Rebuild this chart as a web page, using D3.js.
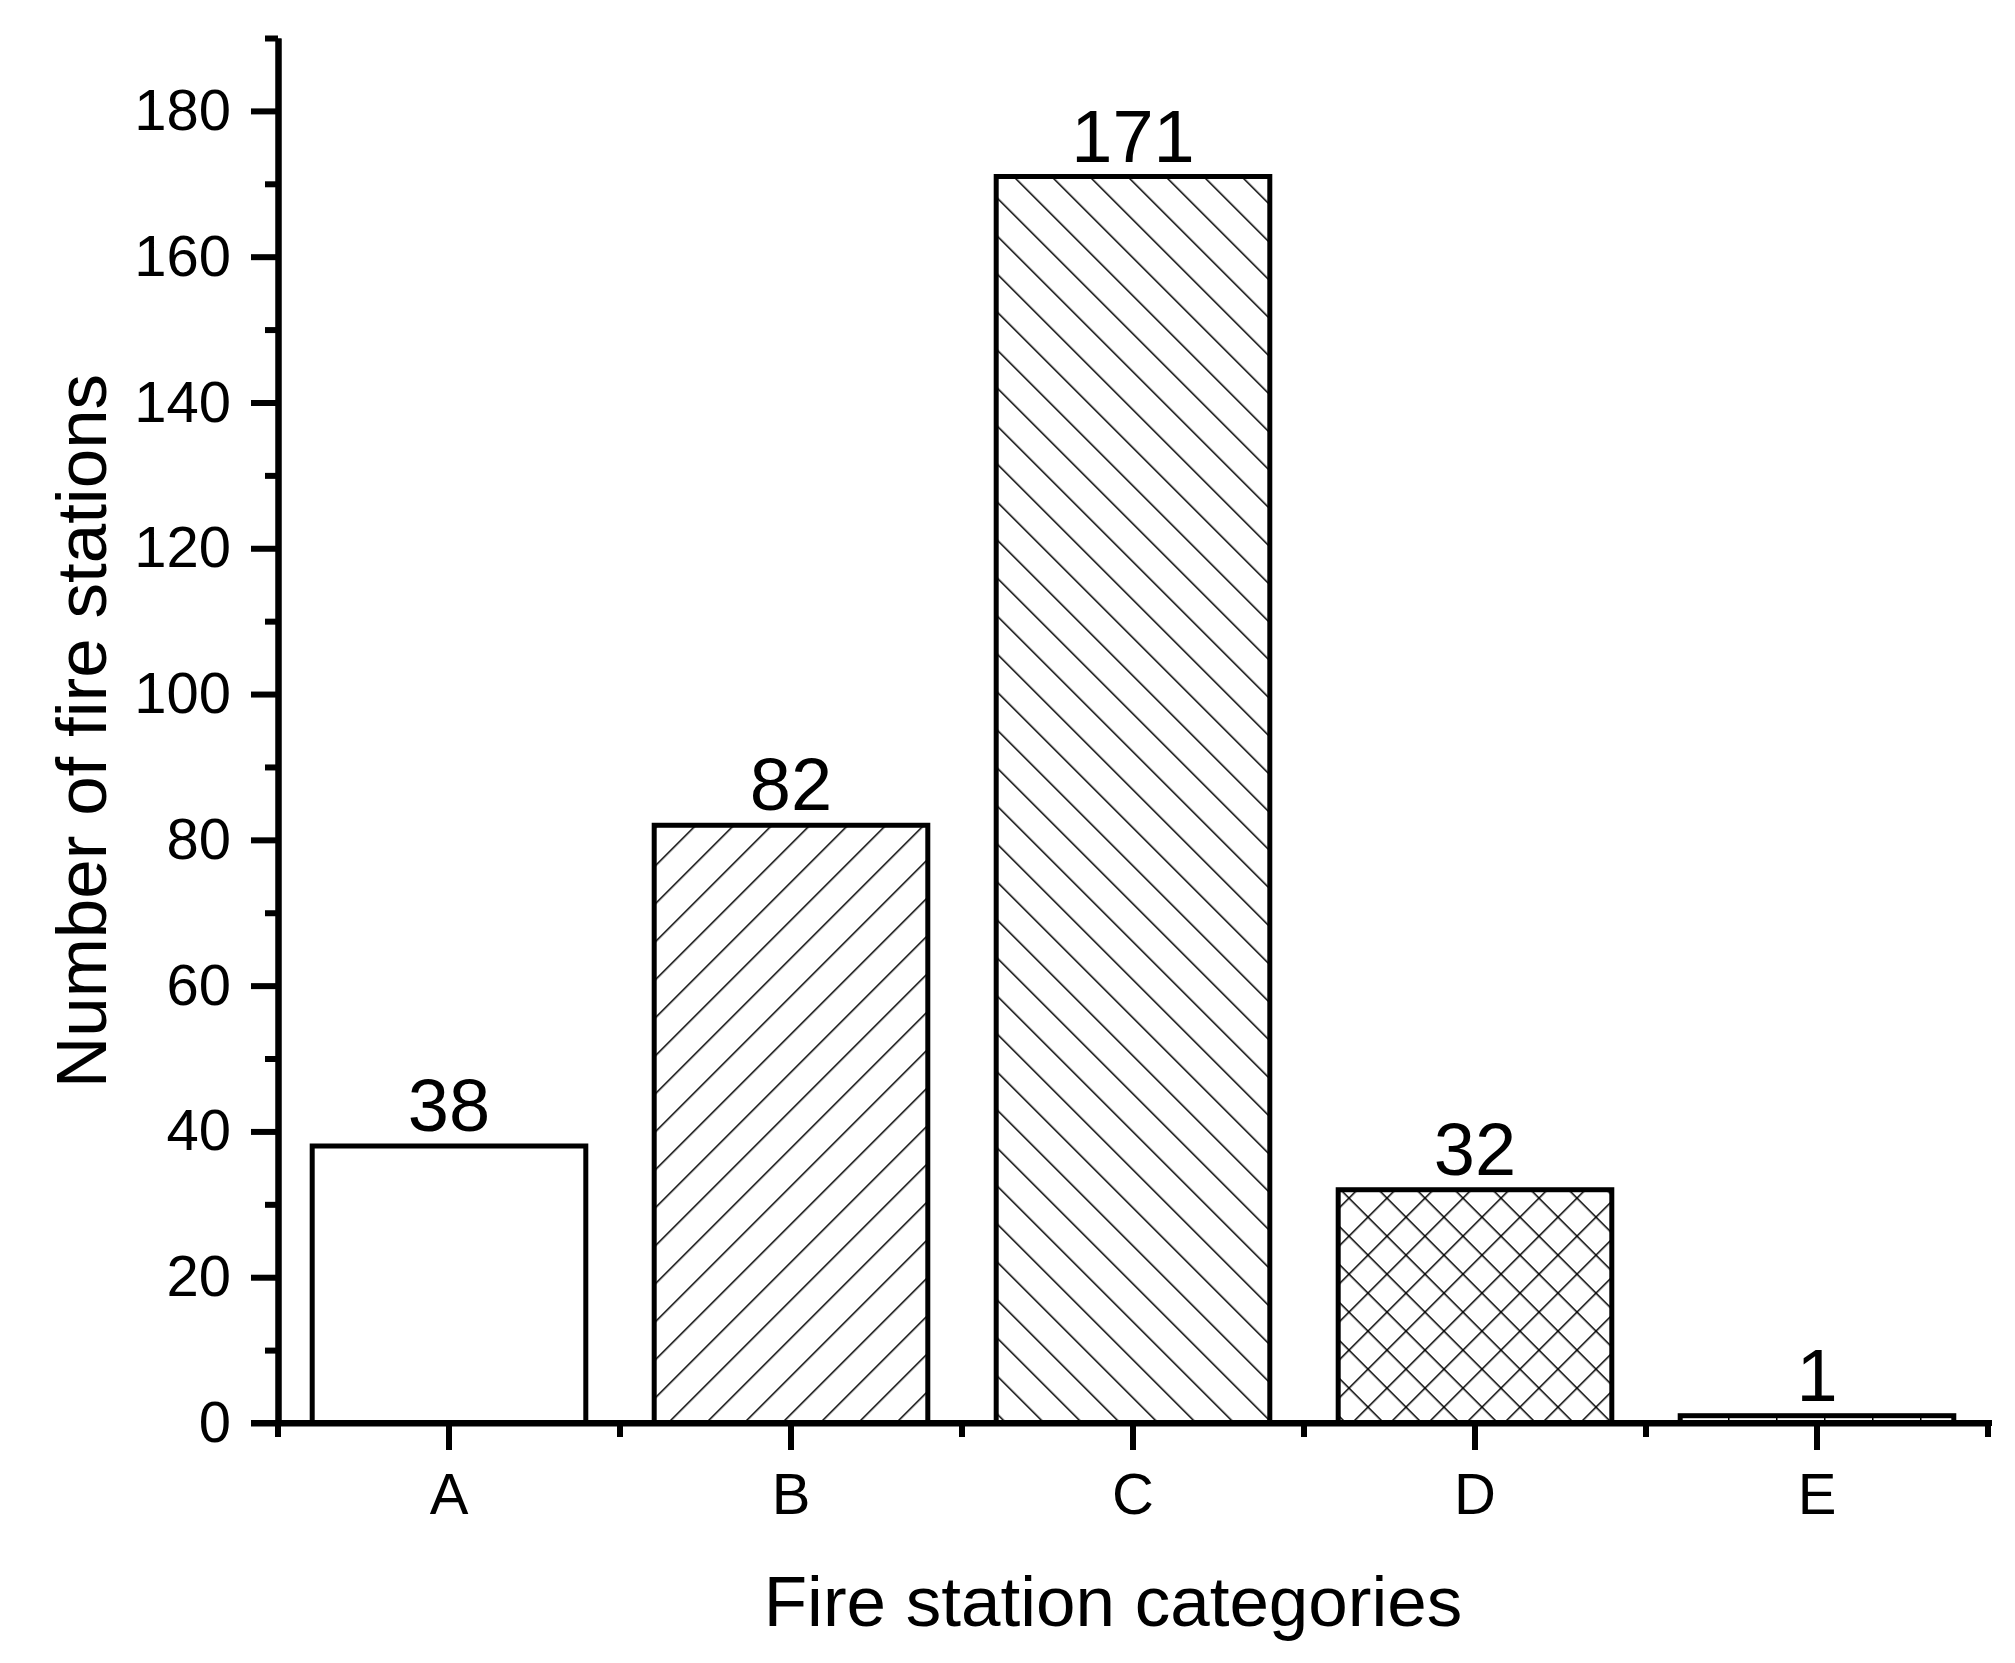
<!DOCTYPE html>
<html>
<head>
<meta charset="utf-8">
<script src="https://cdn.jsdelivr.net/npm/d3@7"></script>
<style>
  body { margin: 0; background: #ffffff; }
  text { font-family: "Liberation Sans", Arial, sans-serif; fill: #000; }
</style>
</head>
<body>
<svg></svg>
<script>
// data
var categories = ['A', 'B', 'C', 'D', 'E']
var counts = [38, 82, 171, 32, 1]
var fills = ['none', 'fwd', 'back', 'cross', 'vert']
var yTicks = [0, 20, 40, 60, 80, 100, 120, 140, 160, 180]
var yMinor = [10, 30, 50, 70, 90, 110, 130, 150, 170, 190]

var svgWidth = 2015, svgHeight = 1663
// (window.top is taken, so plot edges get their own names)
var plotLeft = 278, plotRight = 1988, plotTop = 38, plotBottom = 1423

var svg = d3.select('svg')
    .attr('width', svgWidth)
    .attr('height', svgHeight)

// scales
var x = d3.scaleBand()
    .domain(categories)
    .range([plotLeft, plotRight])
    .paddingInner(0.2)
    .paddingOuter(0.1)

var y = d3.scaleLinear()
    .domain([0, 190])
    .range([plotBottom, plotTop])

// hatch patterns
var defs = svg.append('defs')
var step = 38 / Math.SQRT2

function hatch(id, angle, lines, w) {
    var p = defs.append('pattern')
        .attr('id', id)
        .attr('patternUnits', 'userSpaceOnUse')
        .attr('width', w)
        .attr('height', w)
        .attr('patternTransform', 'rotate(' + angle + ')')
    p.append('rect').attr('width', w).attr('height', w).attr('fill', '#fff')
    lines.forEach(function(l) {
        p.append('line')
            .attr('x1', l[0]).attr('y1', l[1])
            .attr('x2', l[2]).attr('y2', l[3])
            .attr('stroke', '#000')
            .attr('stroke-width', 3)
    })
}
hatch('fwd', 45, [[0, 0, 0, step]], step)
hatch('back', -45, [[0, 0, 0, step]], step)
hatch('cross', 45, [[0, 0, 0, step], [0, 0, step, 0]], step)
hatch('vert', 0, [[0, 0, 0, 48]], 48)

// bars
svg.selectAll('rect.bar')
    .data(counts)
    .enter()
    .append('rect')
    .attr('class', 'bar')
    .attr('x', function(d, i) { return x(categories[i]) })
    .attr('y', function(d) { return y(d) })
    .attr('width', x.bandwidth())
    .attr('height', function(d) { return y(0) - y(d) })
    .attr('fill', function(d, i) { return fills[i] == 'none' ? '#fff' : 'url(#' + fills[i] + ')' })
    .attr('stroke', '#000')
    .attr('stroke-width', 5)

// value labels
svg.selectAll('text.val')
    .data(counts)
    .enter()
    .append('text')
    .attr('class', 'val')
    .attr('x', function(d, i) { return x(categories[i]) + x.bandwidth() / 2 })
    .attr('y', function(d) { return y(d) - 15 })
    .attr('text-anchor', 'middle')
    .style('font-size', '74px')
    .text(function(d) { return d })

// y axis, major + minor
svg.append('g')
    .attr('transform', 'translate(' + plotLeft + ',0)')
    .call(d3.axisLeft(y).tickValues(yTicks).tickSize(27).tickPadding(20).tickSizeOuter(0))
svg.append('g')
    .attr('transform', 'translate(' + plotLeft + ',0)')
    .call(d3.axisLeft(y).tickValues(yMinor).tickSize(13).tickFormat('').tickSizeOuter(0))

// x axis, category ticks + minor ticks on band edges
svg.append('g')
    .attr('transform', 'translate(0,' + plotBottom + ')')
    .call(d3.axisBottom(x).tickSize(27).tickPadding(23).tickSizeOuter(0))
svg.append('g')
    .attr('transform', 'translate(0,' + plotBottom + ')')
    .selectAll('line')
    .data(d3.range(categories.length + 1))
    .enter()
    .append('line')
    .attr('x1', function(i) { return plotLeft + i * x.step() })
    .attr('x2', function(i) { return plotLeft + i * x.step() })
    .attr('y1', 0)
    .attr('y2', 14)
    .attr('stroke', '#000')
    .attr('stroke-width', 6)

svg.selectAll('.domain, .tick line')
    .attr('stroke', '#000')
    .attr('stroke-width', 6)
svg.selectAll('.tick text')
    .style('font-size', '58px')
    .style('font-family', '"Liberation Sans", Arial, sans-serif')
    .attr('fill', '#000')

// x axis line reaches the 0 tick on the left
svg.append('line')
    .attr('x1', plotLeft - 27).attr('x2', plotRight + 4)
    .attr('y1', plotBottom).attr('y2', plotBottom)
    .attr('stroke', '#000')
    .attr('stroke-width', 6)

// axis titles
svg.append('text')
    .attr('x', 1113)
    .attr('y', 1626)
    .attr('text-anchor', 'middle')
    .style('font-size', '71px')
    .text('Fire station categories')

svg.append('text')
    .attr('transform', 'translate(106,731) rotate(-90)')
    .attr('text-anchor', 'middle')
    .style('font-size', '71px')
    .text('Number of fire stations')
</script>
</body>
</html>
